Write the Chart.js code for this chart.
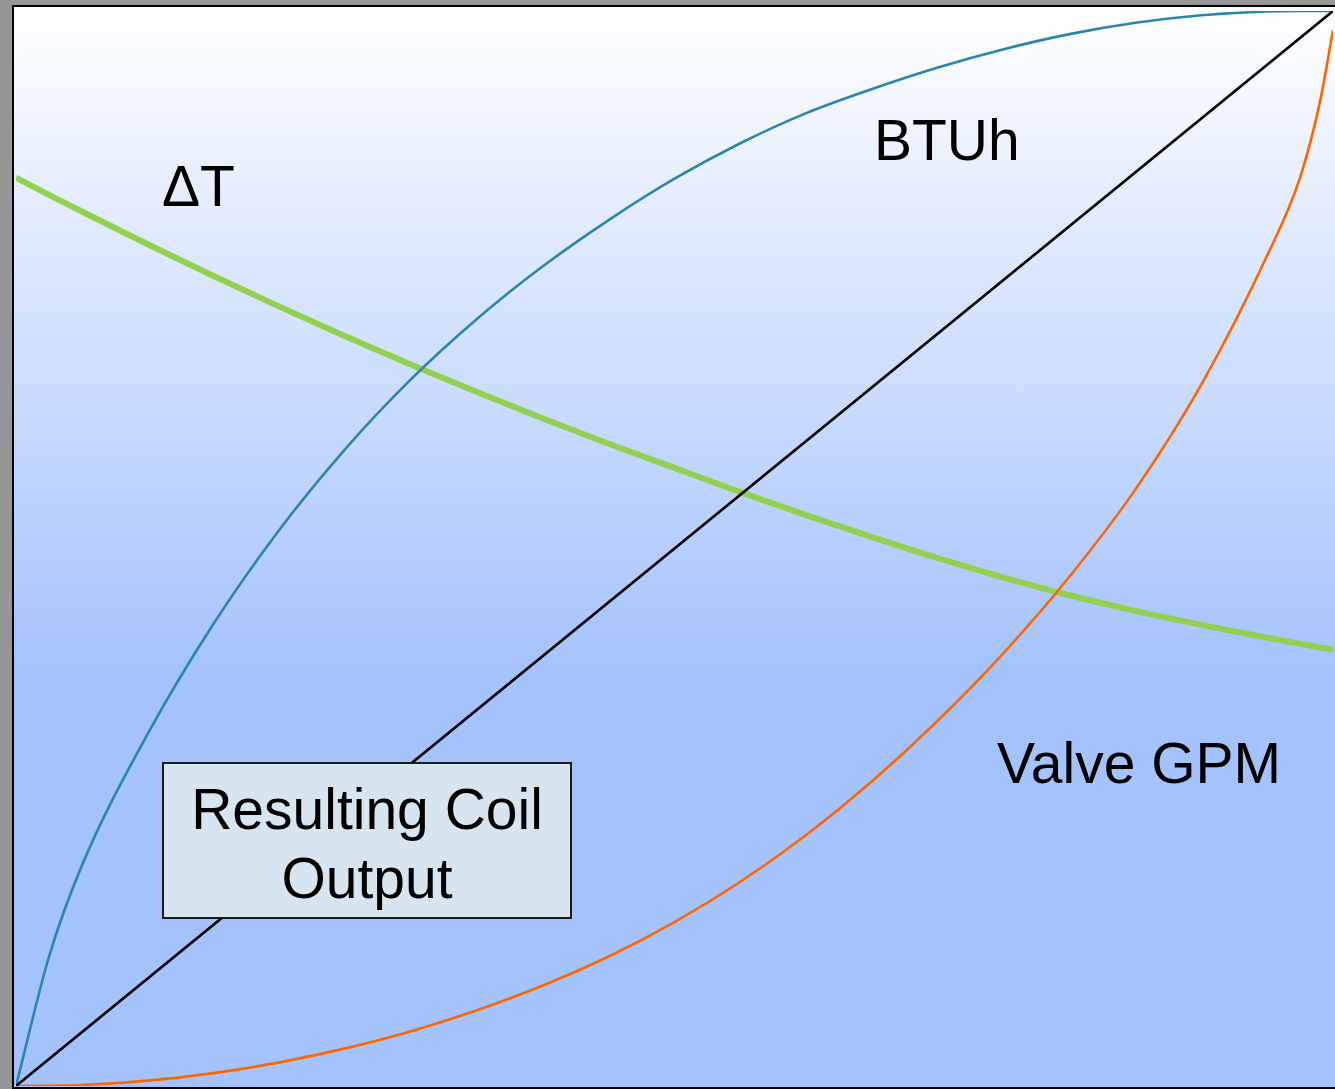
<!DOCTYPE html>
<html>
<head>
<meta charset="utf-8">
<script src="https://cdn.jsdelivr.net/npm/chart.js@4.4.1/dist/chart.umd.min.js"></script>
<style>
    html, body { margin: 0; padding: 0; }
    body { width: 1335px; height: 1089px; overflow: hidden; background: #969696; position: relative; }
    .frame {
        position: absolute; left: 12px; top: 5px; width: 1340px; height: 1084px;
        box-sizing: border-box;
        border-left: 2px solid #000; border-top: 2px solid #000; border-bottom: 2px solid #000;
        background: linear-gradient(to bottom, #ffffff 0%, #a4c2fc 62%, #a4c2fc 100%);
    }
    #coilChart { position: absolute; left: 0; top: 0; }
</style>
</head>
<body>
<div class="frame"></div>
<canvas id="coilChart" width="1335" height="1089"></canvas>
<script>
// valve position, % open
const valvePosition = [0, 2.5, 5, 10, 15, 20, 25, 30, 35, 40, 45, 50, 55, 60, 65, 70, 75, 80, 85, 90, 95, 97.5, 99, 100];

// % of full scale for each curve
const btuh     = [0, 12.0, 20.5, 32.75, 43.0, 51.75, 59.25, 65.75, 71.35, 76.25, 80.55, 84.4, 87.7, 90.5, 92.75, 94.75, 96.45, 97.85, 98.9, 99.6, 99.95, 100, 100, 100];
const valveGpm = [0, 0.03, 0.1, 0.5, 1.2, 2.2, 3.5, 5.1, 7.05, 9.35, 12.05, 15.25, 19.0, 23.35, 28.35, 34.0, 40.3, 47.4, 55.5, 65.25, 77.25, 84.5, 91.5, 98.2];
const deltaT   = [84.5, 82.9, 81.35, 78.3, 75.35, 72.5, 69.75, 67.1, 64.55, 62.1, 59.75, 57.5, 55.25, 53.1, 51.05, 49.1, 47.3, 45.65, 44.2, 42.9, 41.7, 41.15, 40.8, 40.6];

// resulting coil output (straight line)
const outputX = [0, 100];
const outputY = [0, 100];

const toPoints = (xs, ys) => xs.map((x, i) => ({ x: x, y: ys[i] }));

// text labels and the callout box, drawn on top of the curves
const labelPlugin = {
    id: 'coilLabels',
    afterDatasetsDraw(chart) {
        const ctx = chart.ctx;
        ctx.save();
        ctx.font = '57px "Liberation Sans", Arial, sans-serif';
        ctx.fillStyle = '#000';
        ctx.textBaseline = 'alphabetic';
        ctx.textAlign = 'left';
        ctx.fillText('ΔT', 162, 206);
        ctx.fillText('BTUh', 874, 160);
        ctx.fillText('Valve GPM', 997, 783);

        // callout box
        ctx.fillStyle = '#d7e5f0';
        ctx.fillRect(163, 763, 408, 155);
        ctx.strokeStyle = '#1a1a1a';
        ctx.lineWidth = 2;
        ctx.strokeRect(163, 763, 408, 155);
        ctx.fillStyle = '#000';
        ctx.textAlign = 'center';
        ctx.fillText('Resulting Coil', 367, 829);
        ctx.fillText('Output', 367, 898);
        ctx.restore();
    }
};

const lineDefaults = {
    pointRadius: 0,
    fill: false,
    cubicInterpolationMode: 'monotone'
};

new Chart(document.getElementById('coilChart').getContext('2d'), {
    type: 'line',
    data: {
        datasets: [
            { ...lineDefaults, label: 'Coil Output', data: toPoints(outputX, outputY), borderColor: '#000000', borderWidth: 2.6 },
            { ...lineDefaults, label: 'Valve GPM', data: toPoints(valvePosition, valveGpm), borderColor: '#ff6600', borderWidth: 2.6 },
            { ...lineDefaults, label: 'BTUh', data: toPoints(valvePosition, btuh), borderColor: '#2b86ab', borderWidth: 2.6 },
            { ...lineDefaults, label: 'ΔT', data: toPoints(valvePosition, deltaT), borderColor: '#92d050', borderWidth: 6 }
        ]
    },
    options: {
        responsive: false,
        animation: false,
        events: [],
        layout: { padding: { left: 16, right: 2, top: 11, bottom: 3 } },
        plugins: {
            legend: { display: false },
            tooltip: { enabled: false }
        },
        scales: {
            x: { type: 'linear', min: 0, max: 100, display: false },
            y: { type: 'linear', min: 0, max: 100, display: false }
        }
    },
    plugins: [labelPlugin]
});
</script>
</body>
</html>
